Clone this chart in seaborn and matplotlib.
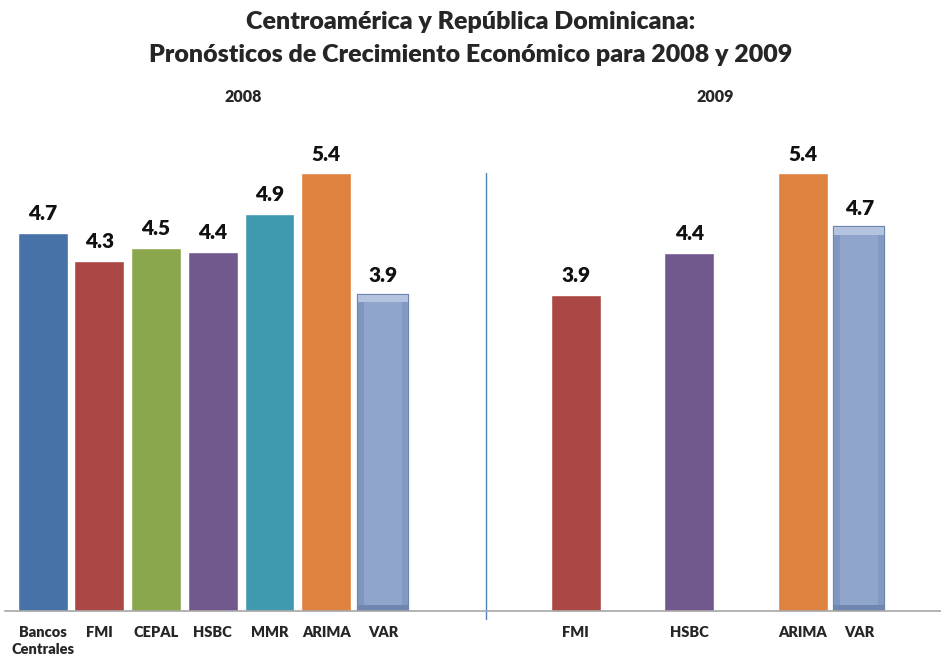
import matplotlib
matplotlib.use("Agg")
import matplotlib.pyplot as plt
import seaborn as sns
import pandas as pd
from matplotlib.patches import Rectangle

# ---- data ----
cats_2008 = ["Bancos\nCentrales", "FMI", "CEPAL", "HSBC", "MMR", "ARIMA", "VAR"]
vals_2008 = [4.66, 4.32, 4.48, 4.43, 4.9, 5.4, 3.9]
cats_2009 = ["FMI", "HSBC", "ARIMA", "VAR"]
vals_2009 = [3.9, 4.42, 5.4, 4.73]
year_labels = ["2008", "2009"]
title = "Centroamérica y República Dominicana:\nPronósticos de Crecimiento Económico para 2008 y 2009"

# ---- layout (slot positions on the category axis) ----
pos_2008 = [0, 1, 2, 3, 4, 5, 6]
pos_2009 = [9.4, 11.4, 13.4, 14.4]
separator_pos = 7.81

palette = {
    "Bancos\nCentrales": "#4672A8",
    "FMI": "#AA4744",
    "CEPAL": "#8AA74E",
    "HSBC": "#71598E",
    "MMR": "#3F99AF",
    "ARIMA": "#DF8240",
    "VAR": "#8FA5CC",
}

df = pd.DataFrame({
    "source": cats_2008 + cats_2009,
    "value": vals_2008 + vals_2009,
    "pos": pos_2008 + pos_2009,
})

sns.set_theme(style="white")
plt.rcParams["font.family"] = ["Lato", "DejaVu Sans"]

fig = plt.figure(figsize=(9.41, 6.58), dpi=100)
ax = fig.add_axes([0.005, 0.072, 0.995, 0.7386])

sns.barplot(data=df, x="pos", y="value", hue="source", palette=palette,
            native_scale=True, dodge=False, width=0.88, legend=False,
            saturation=1, ax=ax, errorbar=None)

# bevel look for VAR bars
for p in list(ax.patches):
    fc = p.get_facecolor()
    if abs(fc[0] - 0x8F / 255) < 0.01 and abs(fc[2] - 0xCC / 255) < 0.01:
        p.set_edgecolor("#6C84AE")
        p.set_linewidth(1.6)
        x0, y0 = p.get_x(), p.get_y()
        w, h = p.get_width(), p.get_height()
        z = p.get_zorder() + 0.1
        ax.add_patch(Rectangle((x0, y0 + h - 0.09), w, 0.09, facecolor="#B3C3E0",
                               edgecolor="none", zorder=z))
        ax.add_patch(Rectangle((x0, y0), w * 0.12, h - 0.09, facecolor="#7F96BF",
                               edgecolor="none", zorder=z))
        ax.add_patch(Rectangle((x0 + w * 0.88, y0), w * 0.12, h - 0.09,
                               facecolor="#8299C2", edgecolor="none", zorder=z))
        ax.add_patch(Rectangle((x0, y0), w, 0.07, facecolor="#6F87B0",
                               edgecolor="none", zorder=z))

for c in ax.containers:
    ax.bar_label(c, fmt="%.1f", padding=7, fontsize=15, fontweight="heavy",
                 color="#111111")

ax.set_xlim(-0.67, 15.84)
ax.set_ylim(0, 6)
ax.set_xticks(pos_2008 + pos_2009)
ax.set_xticklabels(cats_2008 + cats_2009, fontsize=10.5, fontweight="heavy",
                   linespacing=1.35)
ax.tick_params(axis="x", length=0, pad=11)
ax.set_yticks([])
ax.set_xlabel("")
ax.set_ylabel("")
for s in ["top", "left", "right"]:
    ax.spines[s].set_visible(False)
ax.spines["bottom"].set_color("#A6A6A6")
ax.spines["bottom"].set_linewidth(1.2)

ax.axvline(separator_pos, ymin=-0.0165, ymax=0.901, color="#4F81BD",
           linewidth=1.0, clip_on=False)

fig.text(0.5, 0.983, title, ha="center", va="top", fontsize=18,
         fontweight="heavy", linespacing=1.6)
fig.text(243 / 941, 1 - 97 / 658, year_labels[0], ha="center", va="center",
         fontsize=11.5, fontweight="heavy")
fig.text(715 / 941, 1 - 97 / 658, year_labels[1], ha="center", va="center",
         fontsize=11.5, fontweight="heavy")

fig.savefig("out.png", dpi=100)
